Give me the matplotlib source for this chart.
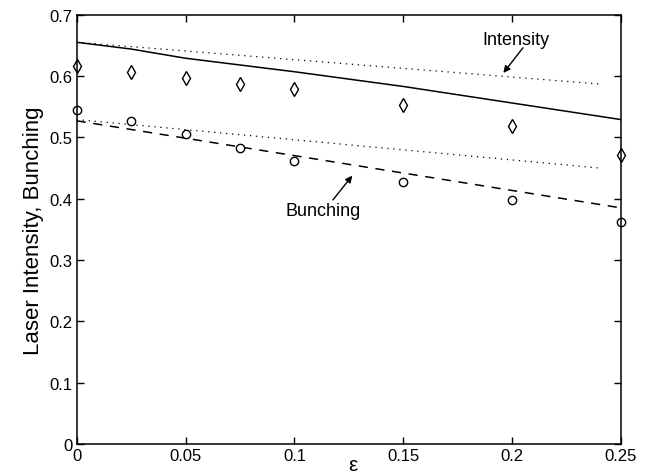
import matplotlib
matplotlib.use("Agg")
import matplotlib.pyplot as plt
import numpy as np

plt.rcParams['font.family'] = ['Liberation Sans', 'DejaVu Sans']

# simulation points
eps_pts = [0, 0.025, 0.05, 0.075, 0.1, 0.15, 0.2, 0.25]
intensity_sim = [0.617, 0.606, 0.596, 0.587, 0.579, 0.552, 0.519, 0.471]
bunching_sim = [0.545, 0.526, 0.505, 0.483, 0.461, 0.428, 0.398, 0.362]

# theory curves
eps_solid = [0, 0.025, 0.05, 0.1, 0.15, 0.2, 0.25]
intensity_solid = [0.655, 0.644, 0.629, 0.607, 0.583, 0.556, 0.529]
eps_dash = [0, 0.25]
bunching_dash = [0.527, 0.385]
eps_dot = [0, 0.24]
intensity_dot = [0.655, 0.587]
bunching_dot = [0.529, 0.450]

fig = plt.figure(figsize=(6.51, 4.77), dpi=100)
ax = fig.add_axes([0.1178, 0.0671, 0.836, 0.900])

ax.plot(eps_solid, intensity_solid, color='black', lw=1.1)
ax.plot(eps_dot, intensity_dot, color='black', lw=0.9, ls=(0, (1, 3.8)))
ax.plot(eps_dash, bunching_dash, color='black', lw=1.1, ls=(0, (6, 5)))
ax.plot(eps_dot, bunching_dot, color='black', lw=0.9, ls=(0, (1, 3.8)))
ax.plot(eps_pts, intensity_sim, ls='none', marker='d', ms=7, mfc='white',
        mec='black', mew=1.0, clip_on=False)
ax.plot(eps_pts, bunching_sim, ls='none', marker='o', ms=6, mfc='white',
        mec='black', mew=1.0, clip_on=False)

arrow = dict(arrowstyle='-|>', color='black', lw=1.0,
             shrinkA=0, shrinkB=0, mutation_scale=10)
ax.text(0.202, 0.659, 'Intensity', ha='center', va='center', fontsize=13)
ax.annotate('', xy=(0.196, 0.605), xytext=(0.205, 0.646), arrowprops=arrow)
ax.text(0.113, 0.380, 'Bunching', ha='center', va='center', fontsize=13)
ax.annotate('', xy=(0.1266, 0.4375), xytext=(0.1177, 0.398), arrowprops=arrow)

ax.set_xlim(0, 0.25)
ax.set_ylim(0, 0.7)
ax.set_xticks([0, 0.05, 0.1, 0.15, 0.2, 0.25])
ax.set_xticklabels(['0', '0.05', '0.1', '0.15', '0.2', '0.25'])
ax.set_yticks(np.arange(0, 0.71, 0.1))
ax.set_yticklabels(['0', '0.1', '0.2', '0.3', '0.4', '0.5', '0.6', '0.7'])
ax.tick_params(direction='in', top=True, right=True, length=5, width=1,
               labelsize=12, pad=3)
for s in ax.spines.values():
    s.set_linewidth(1.1)

ax.set_xlabel('ε', fontsize=15, va='center')
ax.xaxis.set_label_coords(0.507, -0.047)
ax.set_ylabel('Laser Intensity, Bunching', fontsize=16, labelpad=4)

fig.savefig('out.png', dpi=100)
